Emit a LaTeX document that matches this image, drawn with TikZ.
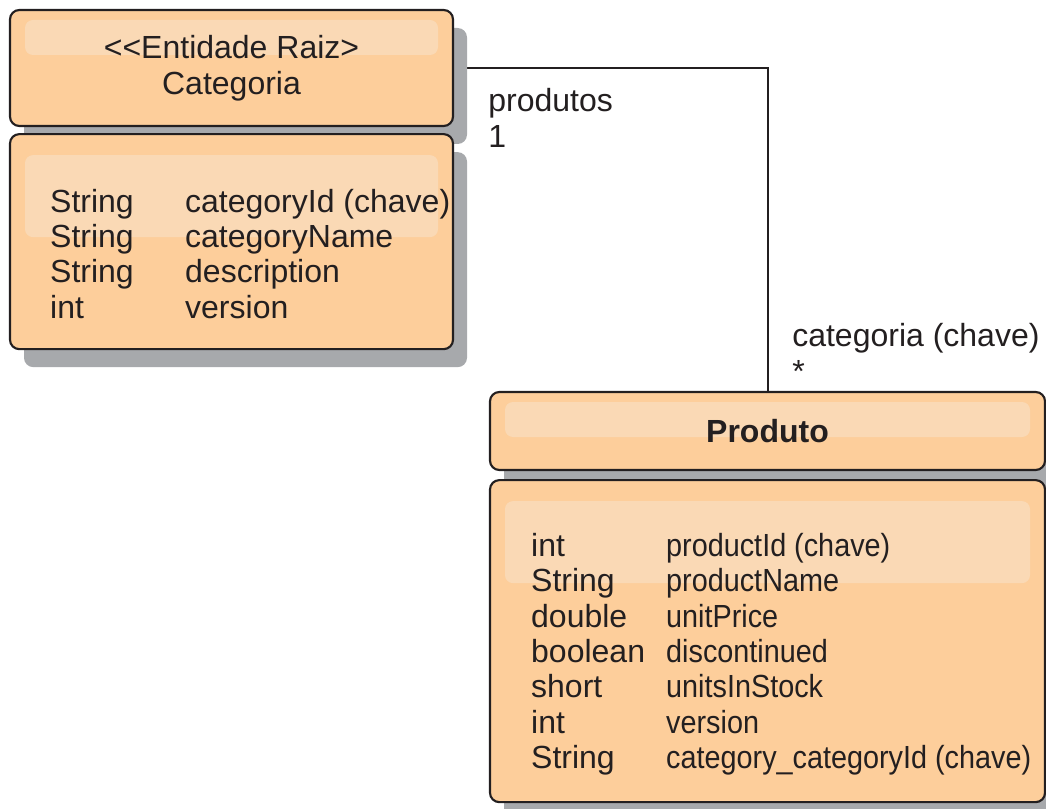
\documentclass[tikz,border=0pt]{standalone}
\usepackage{fontspec}
\usepackage{array}
\setmainfont{Liberation Sans}[Ligatures=TeXOff]
\newfontfamily\narrowsans{Liberation Sans}[Ligatures=TeXOff, FakeStretch=0.9]
\usetikzlibrary{positioning,shadows,backgrounds}
\definecolor{EntityFill}{RGB}{253,206,155}
\definecolor{EntityGlow}{RGB}{250,217,181}
\definecolor{EntityShadow}{RGB}{167,169,172}
\definecolor{EntityLine}{RGB}{35,31,32}

\begin{document}
\begin{tikzpicture}[
    x=0.75pt, y=-0.75pt,
    every node/.style={font=\fontsize{24}{26.6}\selectfont, text=EntityLine},
    entity/.style={draw=EntityLine, line width=1.6pt, fill=EntityFill, rounded corners=7pt,
                   inner sep=0pt,
                   drop shadow={shadow xshift=10.5pt, shadow yshift=-13.5pt,
                                fill=EntityShadow, opacity=1}},
    classhead/.style={entity, align=center,
        path picture={\fill[EntityGlow, rounded corners=6pt]
            ([xshift=11.25pt, yshift=-7.5pt]path picture bounding box.north west) rectangle
            ([xshift=-11.25pt, yshift=-33.75pt]path picture bounding box.north east);}},
    classbody/.style={entity,
        path picture={\fill[EntityGlow, rounded corners=6pt]
            ([xshift=11.25pt, yshift=-15.75pt]path picture bounding box.north west) rectangle
            ([xshift=-11.25pt, yshift=-77.25pt]path picture bounding box.north east);}},
    attrlist/.style={anchor=base west, inner sep=0pt},
    rolename/.style={anchor=base west, inner sep=0pt},
    assoc/.style={draw=EntityLine, line width=1.5pt}
]
    \useasboundingbox (0,0) rectangle (1046,809);

    % Categoria
    \node[classhead, minimum width=332.25pt, minimum height=87pt] (cathead) at (231.5,68)
        {<<Entidade Raiz>\\Categoria};
    \node[classbody, minimum width=332.25pt, minimum height=161.25pt, below=4.5pt of cathead] (catbody) {};
    \node[attrlist] (catattrs) at ([shift={(30.75pt,-59.25pt)}]catbody.north west)
        {\begin{tabular}[t]{@{}p{101.25pt}@{}l@{}}
            String & categoryId (chave)\\
            String & categoryName\\
            String & description\\
            int    & version
         \end{tabular}};

    % Produto
    \node[classhead, minimum width=416.25pt, minimum height=58.5pt] (prodhead) at (767.5,431)
        {\textbf{Produto}};
    \node[classbody, minimum width=416.25pt, minimum height=241.5pt, below=6pt of prodhead] (prodbody) {};
    \node[attrlist] (prodattrs) at ([shift={(31.5pt,-57.75pt)}]prodbody.north west)
        {\begin{tabular}[t]{@{}p{101.25pt}@{}>{\narrowsans}l@{}}
            int     & productId (chave)\\
            String  & productName\\
            double  & unitPrice\\
            boolean & discontinued\\
            short   & unitsInStock\\
            int     & version\\
            String  & category\_categoryId (chave)
         \end{tabular}};

    % association
    \begin{pgfonlayer}{background}
        \draw[assoc] (cathead.east) -| (prodhead.north);
    \end{pgfonlayer}
    \node[rolename] (catrole) at ([shift={(25.5pt,-33pt)}]cathead.east)
        {\begin{tabular}[t]{@{}l@{}}produtos\\1\end{tabular}};
    \node[rolename] (prodrole) at ([shift={(18.4pt,33pt)}]prodhead.north)
        {\begin{tabular}[t]{@{}l@{}}categoria (chave)\\{*}\end{tabular}};
\end{tikzpicture}
\end{document}
